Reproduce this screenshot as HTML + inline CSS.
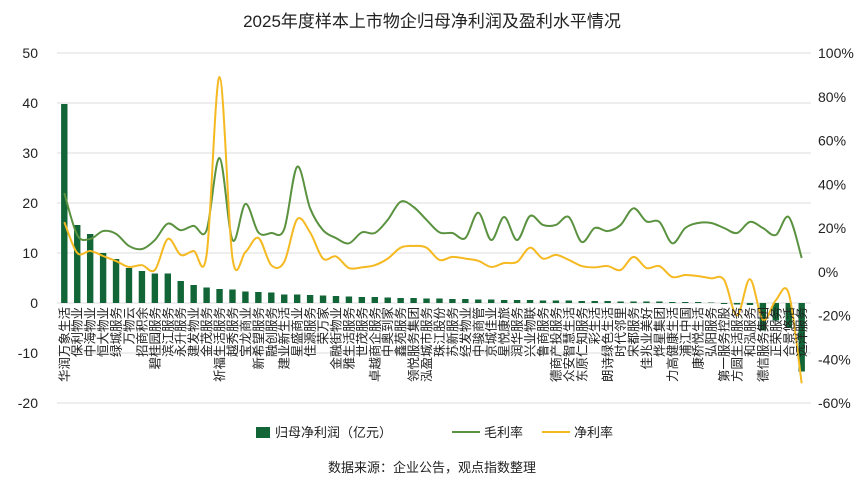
<!DOCTYPE html>
<html><head><meta charset="utf-8">
<style>
body{margin:0;background:#fff;}
svg{display:block;font-family:"Liberation Sans","Noto Sans CJK SC",sans-serif;}
</style></head>
<body>
<svg id="chart" width="865" height="487" viewBox="0 0 865 487" xmlns="http://www.w3.org/2000/svg">
<text x="432" y="27" text-anchor="middle" font-size="17" fill="#222">2025年度样本上市物企归母净利润及盈利水平情况</text>
<g id="grid"></g><g id="bars"></g><g id="lines"></g><g id="axes"></g><g id="xlabels"></g>
<g>
<rect x="256" y="427" width="14" height="11" fill="#126536"/>
<text x="275" y="437" font-size="13" fill="#222">归母净利润（亿元）</text>
<line x1="452" y1="432" x2="480" y2="432" stroke="#5a9240" stroke-width="2"/>
<text x="484" y="437" font-size="13" fill="#222">毛利率</text>
<line x1="542" y1="432" x2="570" y2="432" stroke="#f5b921" stroke-width="2"/>
<text x="574" y="437" font-size="13" fill="#222">净利率</text>
</g>
<text x="432" y="472" text-anchor="middle" font-size="13" fill="#222">数据来源：企业公告，观点指数整理</text>
</svg>
<script>
const categories=["华润万象生活","保利物业","中海物业","恒大物业","绿城服务","万物云","招商积余","碧桂园服务","滨江服务","永升服务","建发物业","金茂服务","祈福生活服务","越秀服务","宝龙商业","新希望服务","融创服务","建业新生活","星盛商业","佳源服务","荣万家","金融街物业","雅生活服务","世茂服务","卓越商企服务","中奥到家","鑫苑服务","领悦服务集团","泓盈城市服务","珠江股份","苏新服务","经发物业","中骏商管","京城佳业","星悦康旅","润华服务","兴业物联","鲁商服务","德商产投服务","众安智慧生活","东原仁知服务","彩生活","朗诗绿色生活","时代邻里","宋都服务","佳兆业美好","烨星集团","力高健康生活","浦江中国","康桥悦生活","弘阳服务","第一服务控股","方圆生活服务","和泓服务","德信服务集团","正荣服务","合景悠活","远洋服务"];
const profit=[39.8,15.6,13.8,10,8.8,7,6.4,5.9,5.9,4.4,3.6,3.1,2.8,2.7,2.3,2.2,2.1,1.7,1.7,1.6,1.5,1.4,1.3,1.2,1.2,1.1,1.0,1.0,0.9,0.9,0.8,0.8,0.7,0.7,0.6,0.6,0.6,0.5,0.5,0.5,0.4,0.4,0.4,0.3,0.3,0.3,0.3,0.2,0.2,0.2,0.1,-0.2,-0.3,-0.4,-5.5,-3.5,-5,-13.7];
const grossMargin=[36,16.8,15,18.6,17.3,11.8,10.4,14.5,22,19,21,19,52,14.5,31,18,17.7,19.5,48,29,19,15.4,13,18,17.7,23.7,32,29.6,23.7,18,17.7,15.4,27,14.5,25,14.5,25.5,21.4,21.4,25,13.6,20,18.6,21.4,29,23,22.8,13,20,22.3,22.3,20,17.7,22.8,20,16.8,25,6.3];
const netMargin=[22.7,8.6,9.5,7.2,4.9,2.2,3,0.8,15,7.7,9.5,7.7,89,6.3,9,15.5,3,4.5,24,18,6,7,1.7,2,3,6,11,11.8,11,5.4,6.8,6,5,2.2,4,4.5,11,6,7.7,5.4,2.6,2,2.6,0.8,6.8,1.7,2.6,-2.4,-1.5,-2,-3,-3.7,-20,-3.4,-22,-13,-10,-51];
const leftTicks=[50,40,30,20,10,0,-10,-20];
const rightTicks=["100%","80%","60%","40%","20%","0%","-20%","-40%","-60%"];
const rightVals=[100,80,60,40,20,0,-20,-40,-60];

const NS="http://www.w3.org/2000/svg";
const X0=64.3,DX=(801.7-64.3)/57;
const xPos=i=>X0+i*DX;
const yL=v=>303-v*5;
const yR=v=>271.75-v*2.1875;
function mk(tag,attrs,parent){const e=document.createElementNS(NS,tag);for(const k in attrs)e.setAttribute(k,attrs[k]);parent.appendChild(e);return e;}
const grid=document.getElementById('grid'),bars=document.getElementById('bars'),lines=document.getElementById('lines'),axes=document.getElementById('axes'),xl=document.getElementById('xlabels');
leftTicks.forEach(v=>{
  const l=mk('line',{x1:57,x2:811,y1:yL(v),y2:yL(v),stroke:'#dcdcdc','stroke-width':1},grid);
  
  
  const t=mk('text',{x:38,y:yL(v)+5,'text-anchor':'end','font-size':14,fill:'#222'},axes);
  t.textContent=v;
  
  
});
rightVals.forEach((v,i)=>{
  const t=mk('text',{x:818,y:yR(v)+5,'font-size':14,fill:'#222'},axes);
  t.textContent=rightTicks[i];
  
  
});
profit.forEach((v,i)=>{
  const y=Math.min(yL(v),yL(0)),h=Math.abs(yL(v)-yL(0));
  const r=mk('rect',{x:xPos(i)-3.2,y:y,width:6.4,height:Math.max(h,0.5),fill:'#126536'},bars);
  
  
});
categories.forEach((c,i)=>{
  const t=mk('text',{x:0,y:0,transform:`translate(${xPos(i)+4.5},307) rotate(-90)`,'text-anchor':'end','font-size':12.5,fill:'#222'},xl);
  t.textContent=c;
  
  
});
function smooth(vals,fy){
  const p=vals.map((v,i)=>[xPos(i),fy(v)]);
  let d=`M${p[0][0]},${p[0][1]}`;
  for(let i=0;i<p.length-1;i++){
    const p0=p[i-1]||p[i],p1=p[i],p2=p[i+1],p3=p[i+2]||p2;
    const c1=[p1[0]+(p2[0]-p0[0])/6,p1[1]+(p2[1]-p0[1])/6];
    const c2=[p2[0]-(p3[0]-p1[0])/6,p2[1]-(p3[1]-p1[1])/6];
    d+=`C${c1[0]},${c1[1]} ${c2[0]},${c2[1]} ${p2[0]},${p2[1]}`;
  }
  return d;
}
const g=mk('path',{d:smooth(grossMargin,yR),fill:'none',stroke:'#5a9240','stroke-width':2},lines);


const n=mk('path',{d:smooth(netMargin,yR),fill:'none',stroke:'#f5b921','stroke-width':2},lines);


</script>
</body></html>
